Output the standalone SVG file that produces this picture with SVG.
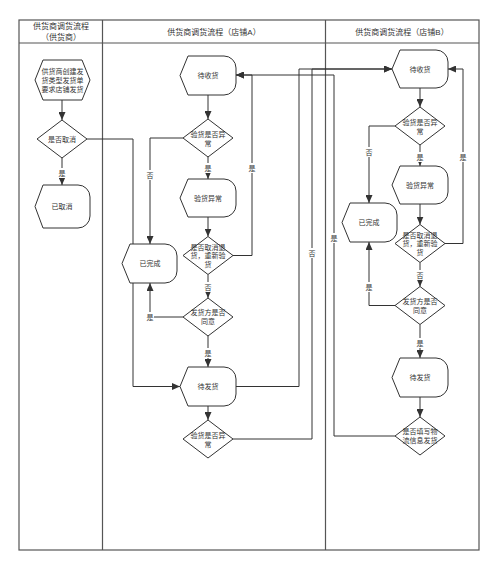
<svg xmlns="http://www.w3.org/2000/svg" width="500" height="571" viewBox="0 0 500 571">
<style>
text{font-family:"Liberation Sans","Noto Sans CJK SC",sans-serif;fill:#333;text-anchor:middle;dominant-baseline:central}
.hd{font-size:8px}
.t{font-size:7px}
.lb{font-size:7px}
.frame{fill:none;stroke:#555;stroke-width:1.2}
.node{fill:#fff;stroke:#333;stroke-width:1}
.c{fill:none;stroke:#333;stroke-width:1}
.lbg{fill:#fff}
</style>
<defs>
<marker id="ah" markerUnits="userSpaceOnUse" markerWidth="8" markerHeight="7" refX="8" refY="3.5" orient="auto">
<path d="M0,0 L8,3.5 L0,7 Z" fill="#333"/>
</marker>
</defs>
<rect x="0" y="0" width="500" height="571" fill="#fff"/>
<g id="lanes">
<rect class="frame" x="19" y="20" width="460" height="530"/>
<line class="frame" x1="19" y1="43" x2="479" y2="43"/>
<line class="frame" x1="102.5" y1="20" x2="102.5" y2="550"/>
<line class="frame" x1="325.5" y1="20" x2="325.5" y2="550"/>
<text class="hd" x="61" y="26">供货商调货流程</text>
<text class="hd" x="61" y="37">（供货商）</text>
<text class="hd" x="214" y="32">供货商调货流程（店铺A）</text>
<text class="hd" x="402" y="32">供货商调货流程（店铺B）</text>
</g>
<g id="connectors">
<path class="c" marker-end="url(#ah)" d="M62,100 V120"/>
<path class="c" marker-end="url(#ah)" d="M62,158 V185"/>
<path class="c" marker-end="url(#ah)" d="M87,139 H133 V386.5 H180"/>
<path class="c" marker-end="url(#ah)" d="M208,95 V119"/>
<path class="c" marker-end="url(#ah)" d="M208,157 V179"/>
<path class="c" marker-end="url(#ah)" d="M183,138 H150 V244"/>
<path class="c" marker-end="url(#ah)" d="M208,217 V236.5"/>
<path class="c" marker-end="url(#ah)" d="M233,255.5 H252 V75 H236"/>
<path class="c" marker-end="url(#ah)" d="M208,274.5 V298"/>
<path class="c" marker-end="url(#ah)" d="M183,317 H150 V283"/>
<path class="c" marker-end="url(#ah)" d="M208,336 V367"/>
<path class="c" marker-end="url(#ah)" d="M208,406 V420"/>
<path class="c" marker-end="url(#ah)" d="M236,386.5 H299 V69 H392"/>
<path class="c" marker-end="url(#ah)" d="M233,439 H312 V69 H392"/>
<path class="c" marker-end="url(#ah)" d="M395,436 H334 V75 H236"/>
<path class="c" marker-end="url(#ah)" d="M420,88 V107"/>
<path class="c" marker-end="url(#ah)" d="M395,126 H369 V203"/>
<path class="c" marker-end="url(#ah)" d="M420,145 V166"/>
<path class="c" marker-end="url(#ah)" d="M420,204 V224.5"/>
<path class="c" marker-end="url(#ah)" d="M445,243.5 H463 V69 H448"/>
<path class="c" marker-end="url(#ah)" d="M420,262.5 V286.5"/>
<path class="c" marker-end="url(#ah)" d="M395,305.5 H369 V242"/>
<path class="c" marker-end="url(#ah)" d="M420,324.5 V358"/>
<path class="c" marker-end="url(#ah)" d="M420,397 V417"/>
<g id="labels">
<rect class="lbg" x="58" y="168" width="8" height="10"/><text class="lb" x="62" y="173">是</text>
<rect class="lbg" x="204" y="163" width="8" height="10"/><text class="lb" x="208" y="168">是</text>
<rect class="lbg" x="146" y="170" width="8" height="10"/><text class="lb" x="150" y="175">否</text>
<rect class="lbg" x="248" y="163" width="8" height="10"/><text class="lb" x="252" y="168">是</text>
<rect class="lbg" x="204" y="282" width="8" height="10"/><text class="lb" x="208" y="287">否</text>
<rect class="lbg" x="146" y="312" width="8" height="10"/><text class="lb" x="150" y="317">是</text>
<rect class="lbg" x="204" y="348" width="8" height="10"/><text class="lb" x="208" y="353">是</text>
<rect class="lbg" x="308" y="248" width="8" height="10"/><text class="lb" x="312" y="253">否</text>
<rect class="lbg" x="330" y="233" width="8" height="10"/><text class="lb" x="334" y="238">是</text>
<rect class="lbg" x="365" y="147" width="8" height="10"/><text class="lb" x="369" y="152">否</text>
<rect class="lbg" x="416" y="152" width="8" height="10"/><text class="lb" x="420" y="157">是</text>
<rect class="lbg" x="459" y="152" width="8" height="10"/><text class="lb" x="463" y="157">是</text>
<rect class="lbg" x="416" y="270" width="8" height="10"/><text class="lb" x="420" y="275">否</text>
<rect class="lbg" x="365" y="282" width="8" height="10"/><text class="lb" x="369" y="287">是</text>
<rect class="lbg" x="416" y="338" width="8" height="10"/><text class="lb" x="420" y="343">是</text>
</g>
</g>
<g id="n1"><path class="node" d="M43,60 H82 L90,80 L82,100 H43 L35,80 Z"/><text class="t" x="62.5" y="71">供货商创建发</text><text class="t" x="62.5" y="80">货类型发货单</text><text class="t" x="62.5" y="89">要求店铺发货</text></g>
<g id="d1"><path class="node" d="M62,120 L87,139 L62,158 L37,139 Z"/><text class="t" x="62" y="139">是否取消</text></g>
<g id="n2"><path class="node" d="M43,185 H78 A12,12 0 0 1 90,197 V216 A12,12 0 0 1 78,228 H43 L35,206.5 Z"/><text class="t" x="62" y="206.5">已取消</text></g>
<g id="a1"><path class="node" d="M188,56 H224 A12,12 0 0 1 236,68 V83 A12,12 0 0 1 224,95 H188 L180,75.5 Z"/><text class="t" x="208" y="75.5">待收货</text></g>
<g id="a2"><path class="node" d="M208,119 L233,138 L208,157 L183,138 Z"/><text class="t" x="208" y="134">验货是否异</text><text class="t" x="208" y="143">常</text></g>
<g id="a3"><path class="node" d="M188,179 H224 A12,12 0 0 1 236,191 V205 A12,12 0 0 1 224,217 H188 L180,198 Z"/><text class="t" x="208" y="198">验货异常</text></g>
<g id="a4"><path class="node" d="M208,236.5 L233,255.5 L208,274.5 L183,255.5 Z"/><text class="t" x="208" y="247">是否取消退</text><text class="t" x="208" y="255.5">货，重新验</text><text class="t" x="208" y="264">货</text></g>
<g id="a5"><path class="node" d="M208,298 L233,317 L208,336 L183,317 Z"/><text class="t" x="208" y="312.5">发货方是否</text><text class="t" x="208" y="321.5">同意</text></g>
<g id="a6"><path class="node" d="M130,244 H165 A12,12 0 0 1 177,256 V271 A12,12 0 0 1 165,283 H130 L122,263.5 Z"/><text class="t" x="150" y="263.5">已完成</text></g>
<g id="a7"><path class="node" d="M188,367 H224 A12,12 0 0 1 236,379 V394 A12,12 0 0 1 224,406 H188 L180,386.5 Z"/><text class="t" x="208" y="386.5">待发货</text></g>
<g id="a8"><path class="node" d="M208,420 L233,439 L208,458 L183,439 Z"/><text class="t" x="208" y="435">验货是否异</text><text class="t" x="208" y="444">常</text></g>
<g id="b1"><path class="node" d="M400,50 H436 A12,12 0 0 1 448,62 V76 A12,12 0 0 1 436,88 H400 L392,69 Z"/><text class="t" x="420" y="69">待收货</text></g>
<g id="b2"><path class="node" d="M420,107 L445,126 L420,145 L395,126 Z"/><text class="t" x="420" y="122">验货是否异</text><text class="t" x="420" y="131">常</text></g>
<g id="b3"><path class="node" d="M400,166 H436 A12,12 0 0 1 448,178 V192 A12,12 0 0 1 436,204 H400 L392,185 Z"/><text class="t" x="420" y="185">验货异常</text></g>
<g id="b4"><path class="node" d="M350,203 H385 A12,12 0 0 1 397,215 V230 A12,12 0 0 1 385,242 H350 L342,222.5 Z"/><text class="t" x="369" y="222.5">已完成</text></g>
<g id="b5"><path class="node" d="M420,224.5 L445,243.5 L420,262.5 L395,243.5 Z"/><text class="t" x="420" y="235">是否取消退</text><text class="t" x="420" y="243.5">货，重新验</text><text class="t" x="420" y="252">货</text></g>
<g id="b6"><path class="node" d="M420,286.5 L445,305.5 L420,324.5 L395,305.5 Z"/><text class="t" x="420" y="301">发货方是否</text><text class="t" x="420" y="310">同意</text></g>
<g id="b7"><path class="node" d="M400,358 H436 A12,12 0 0 1 448,370 V385 A12,12 0 0 1 436,397 H400 L392,377.5 Z"/><text class="t" x="420" y="377.5">待发货</text></g>
<g id="b8"><path class="node" d="M420,417 L445,436 L420,455 L395,436 Z"/><text class="t" x="420" y="431.5">是否填写物</text><text class="t" x="420" y="440.5">流信息发货</text></g>
</svg>
